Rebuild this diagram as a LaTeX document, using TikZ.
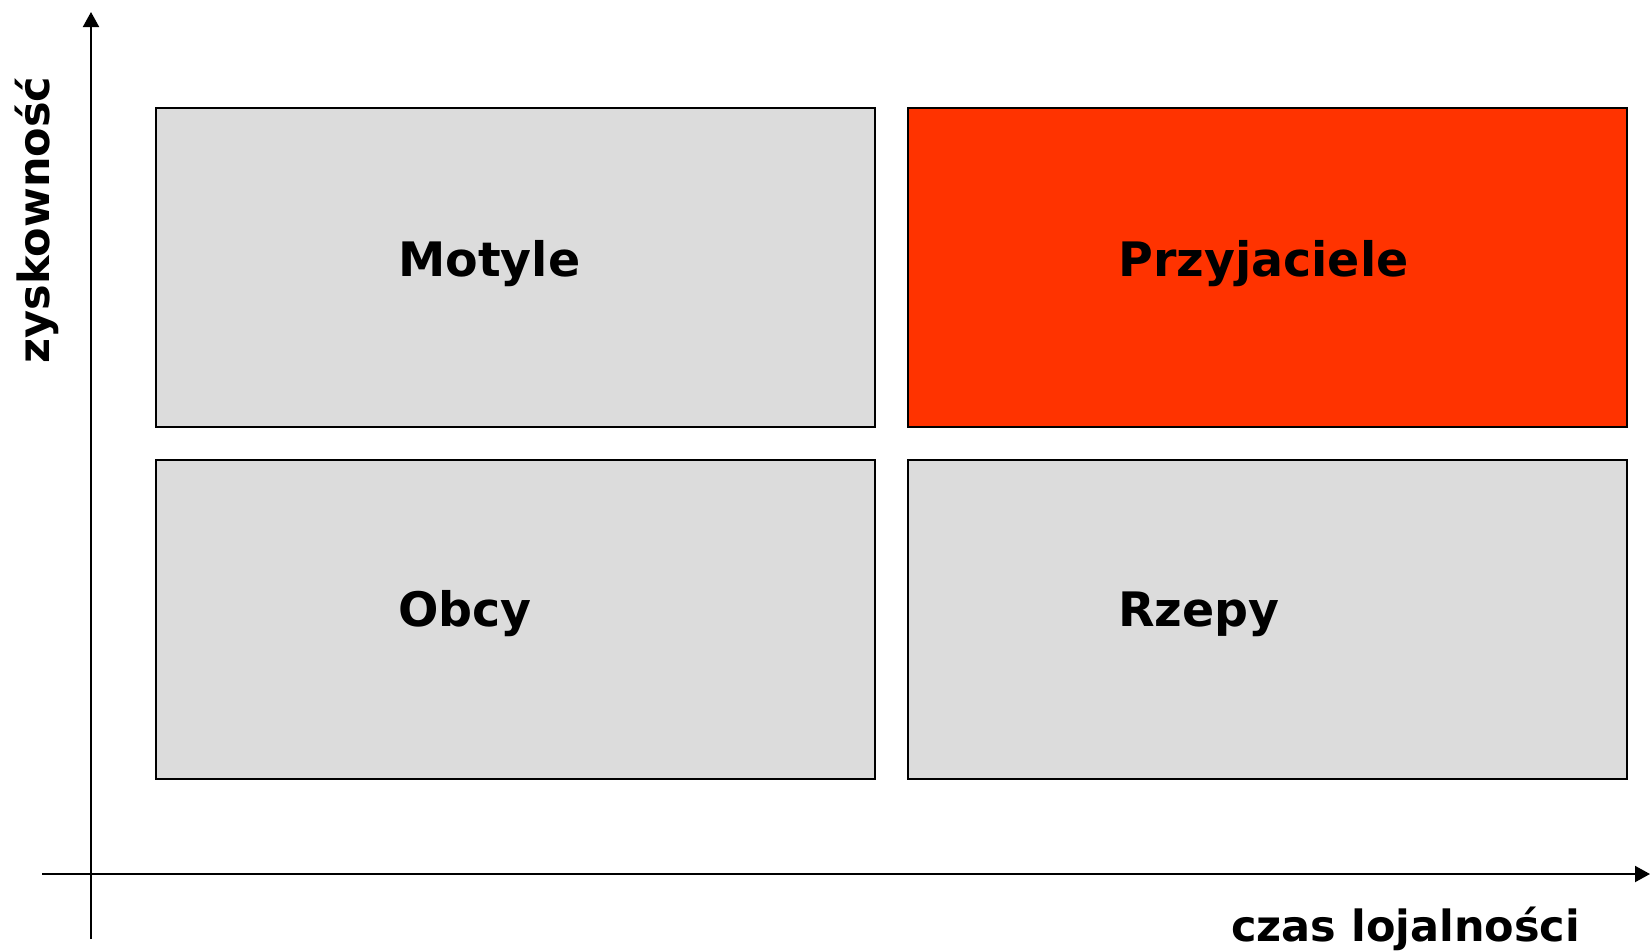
\documentclass[tikz,border=0pt]{standalone}
\usepackage{fontspec}
\setmainfont{DejaVu Sans}
\usetikzlibrary{arrows.meta}
\definecolor{boxgray}{HTML}{DCDCDC}
\definecolor{boxred}{HTML}{FF3300}
\begin{document}
\begin{tikzpicture}[x=1pt,y=-1pt,
  quad/.style={draw=black,line width=1.8pt,minimum width=719pt,minimum height=319pt,inner sep=0pt,anchor=north west},
  quadlabel/.style={anchor=base west,inner sep=0pt,font=\fontsize{47.5}{57}\selectfont\bfseries},
  axislabel/.style={inner sep=0pt,font=\fontsize{43}{52}\selectfont\bfseries},
  axis/.style={line width=2pt,-{Triangle[length=15pt,width=16pt]}}]
\useasboundingbox (0,0) rectangle (1650,951);
% boxes
\node[quad,fill=boxgray] (tl) at (155,107) {};
\node[quad,fill=boxred] (tr) at (907,107) {};
\node[quad,fill=boxgray] (bl) at (155,459) {};
\node[quad,fill=boxgray] (br) at (907,459) {};
% labels
\node[quadlabel] (lm) at (398,276) {Motyle};
\node[quadlabel] (lp) at (1118,276) {Przyjaciele};
\node[quadlabel] (lo) at (398,626) {Obcy};
\node[quadlabel] (lr) at (1118,626) {Rzepy};
% axes
\coordinate (ybot) at (91,939);
\coordinate (ytop) at (91,12);
\coordinate (xleft) at (42,874);
\coordinate (xright) at (1650,874);
\draw[axis] (ybot) -- (ytop);
\draw[axis] (xleft) -- (xright);
\node[axislabel,anchor=base west] (xl) at (1231,941) {czas lojalności};
\node[axislabel,anchor=base,rotate=90] (yl) at (49,220) {zyskowność};
\end{tikzpicture}
\end{document}
